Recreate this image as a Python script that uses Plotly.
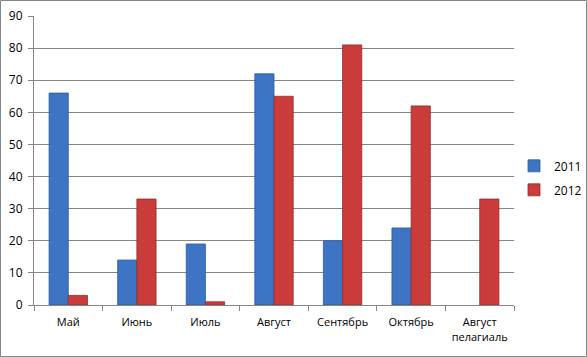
import plotly.graph_objects as go

categories = ["Май", "Июнь", "Июль", "Август", "Сентябрь", "Октябрь", "Август<br>пелагиаль"]
series_names = ["2011", "2012"]
values_2011 = [66, 14, 19, 72, 20, 24, None]
values_2012 = [3, 33, 1, 65, 81, 62, 33]
y_ticks = [0, 10, 20, 30, 40, 50, 60, 70, 80, 90]

W, H = 587, 357
L, R, T, B = 34, 73, 16, 52
pw, ph = W - L - R, H - T - B

fig = go.Figure()
fig.add_trace(go.Bar(x=categories, y=values_2011, name=series_names[0], legendgroup="a",
                     marker=dict(color="#3d75c4", line=dict(color="#2c5a9a", width=0.8))))
fig.add_trace(go.Bar(x=categories, y=values_2012, name=series_names[1], legendgroup="b",
                     marker=dict(color="#c93c3b", line=dict(color="#9a2a2a", width=0.8))))

font = "Open Sans, Liberation Sans, sans-serif"
fig.update_layout(
    width=W, height=H,
    margin=dict(l=L, r=R, t=T, b=B, autoexpand=False),
    paper_bgcolor="white", plot_bgcolor="white",
    barmode="group", bargap=0.44, bargroupgap=0,
    font=dict(family=font, size=11, color="#000000"),
    legend=dict(x=1.0, y=0.44, yanchor="middle", xanchor="left",
                font=dict(size=12), itemwidth=30, tracegroupgap=5,
                bgcolor="rgba(0,0,0,0)"),
    xaxis=dict(showline=True, linecolor="#868686", linewidth=1,
               ticks="outside", tickson="boundaries", ticklen=5,
               tickcolor="#868686", showgrid=False, tickangle=0,
               automargin=False, tickfont=dict(size=11), ticklabelstandoff=7),
    yaxis=dict(range=[0, 90], tickvals=y_ticks, showline=True,
               linecolor="#868686", linewidth=1, ticks="outside", ticklen=5,
               tickcolor="#868686", showgrid=True, gridcolor="#868686",
               gridwidth=1, zeroline=False, automargin=False,
               tickfont=dict(size=12), ticklabelstandoff=3),
    shapes=[dict(type="rect", xref="paper", yref="paper",
                 x0=-(L - 0.5) / pw, x1=1 + (R - 0.5) / pw,
                 y0=-(B - 0.5) / ph, y1=1 + (T - 0.5) / ph,
                 line=dict(color="#868686", width=1))],
)
fig.write_html("out.html", config={"displayModeBar": False},
               post_script="document.body.style.margin='0';")
